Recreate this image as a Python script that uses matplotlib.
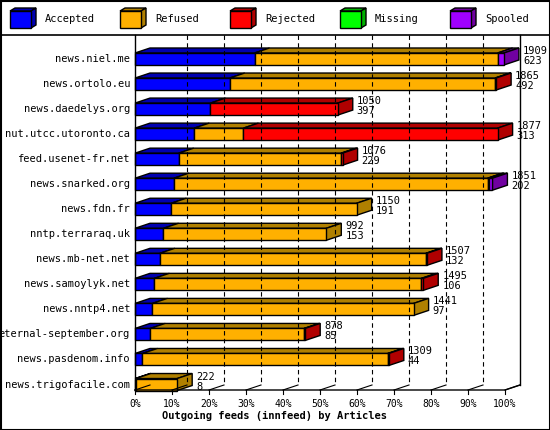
import matplotlib.pyplot as plt
from matplotlib.patches import Polygon, Rectangle

# Données (pourcentages par rapport au plus gros flux)
serveurs = ["news.niel.me", "news.ortolo.eu", "news.daedelys.org", "nut.utcc.utoronto.ca",
            "feed.usenet-fr.net", "news.snarked.org", "news.fdn.fr", "nntp.terraraq.uk",
            "news.mb-net.net", "news.samoylyk.net", "news.nntp4.net", "eternal-september.org",
            "news.pasdenom.info", "news.trigofacile.com"]
accepted = [32.3, 25.6, 20.4, 16.0, 11.8, 10.5, 9.8, 7.7, 6.7, 5.2, 4.7, 4.1, 2.0, 0.2]
refused = [65.7, 71.7, 0.0, 13.3, 43.9, 84.8, 50.1, 44.0, 71.9, 72.2, 70.6, 41.6, 66.3, 11.2]
rejected = [0.0, 0.3, 34.4, 68.7, 0.4, 0.3, 0.0, 0.0, 0.3, 0.5, 0.0, 0.3, 0.3, 0.0]
missing = [0.0] * 14
spooled = [1.7, 0.0, 0.0, 0.0, 0.0, 1.0, 0.0, 0.0, 0.0, 0.0, 0.0, 0.0, 0.0, 0.0]
offered = [1909, 1865, 1050, 1877, 1076, 1851, 1150, 992, 1507, 1495, 1441, 878, 1309, 222]
acc_n = [623, 492, 397, 313, 229, 202, 191, 153, 132, 106, 97, 85, 44, 8]

noms = ["Accepted", "Refused", "Rejected", "Missing", "Spooled"]
faces = ["#0000ff", "#ffb000", "#ff0000", "#00ff00", "#a000ff"]
ombres = ["#0000b0", "#b08000", "#b00000", "#00b000", "#7000a0"]

fig = plt.figure(figsize=(5.5, 4.3), dpi=100)
ax = fig.add_axes([0, 0, 1, 1])
ax.set_xlim(0, 550)
ax.set_ylim(430, 0)
ax.axis("off")
mono = "DejaVu Sans Mono"

X0, ESC, DX, DY = 135, 3.7, 15, 5  # origem, px por %, profundidade

def px(p):
    return X0 + p * ESC

def caixa(x1, x2, y1, y2, face, ombre, dx=DX, dy=DY, lado=True):
    ax.add_patch(Polygon([(x1, y1), (x1 + dx, y1 - dy), (x2 + dx, y1 - dy), (x2, y1)],
                         fc=ombre, ec="black", lw=1))
    if lado:
        ax.add_patch(Polygon([(x2, y1), (x2 + dx, y1 - dy), (x2 + dx, y2 - dy), (x2, y2)],
                             fc=ombre, ec="black", lw=1))
    ax.add_patch(Rectangle((x1, y1), x2 - x1, y2 - y1, fc=face, ec="black", lw=1))

# moldura e legenda
ax.add_patch(Rectangle((0.5, 0.5), 549, 429, fc="white", ec="black", lw=1.5))
ax.plot([0, 550], [35, 35], color="black", lw=1.2)
for k, nome in enumerate(noms):
    x = 10 + k * 110
    caixa(x, x + 21, 11, 28, faces[k], ombres[k], dx=5, dy=3)
    ax.text(x + 35, 19.5, nome, fontsize=7.5, family=mono, va="center")

# parede do fundo e chão
ax.plot([X0, X0], [35, 390], color="black", lw=1)
ax.plot([px(100) + DX] * 2, [35, 385], color="black", lw=1)
ax.plot([X0, px(100), px(100) + DX], [390, 390, 385], color="black", lw=1)
for p in range(10, 100, 10):
    ax.plot([px(p) + DX] * 2, [35, 385], color="black", lw=0.8, ls=(0, (4, 3)))
for p in range(0, 110, 10):
    ax.plot([px(p), px(p) + DX], [390, 385], color="black", lw=0.8)
    ax.plot([px(p), px(p)], [390, 394], color="black", lw=0.8)
    ax.text(px(p), 404, f"{p}%", fontsize=7, family=mono, ha="center", va="center")
ax.text(275, 416, "Outgoing feeds (innfeed) by Articles", fontsize=7.5, family=mono,
        weight="bold", ha="center", va="center")

# barras
series = [accepted, refused, rejected, missing, spooled]
for i, nome in enumerate(serveurs):
    cy = 59 + i * 25.04
    y1, y2 = cy - 6, cy + 6
    ini = 0.0
    segs = [(k, series[k][i]) for k in range(5) if series[k][i] > 0]
    for j, (k, v) in enumerate(segs):
        caixa(px(ini), px(ini + v), y1, y2, faces[k], ombres[k], lado=(j == len(segs) - 1))
        ini += v
    ax.text(130, cy, nome, fontsize=7.5, family=mono, ha="right", va="center")
    ax.text(px(ini) + DX + 4, cy - 3, f"{offered[i]}\n{acc_n[i]}", fontsize=7.5,
            family=mono, va="center", linespacing=1.0)

fig.savefig("out.png", dpi=100)
